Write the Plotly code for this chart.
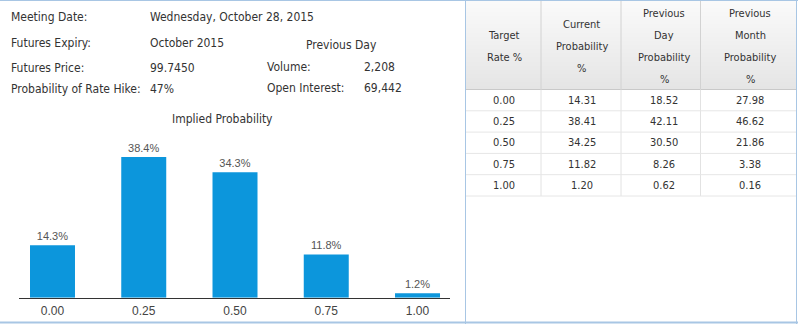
import plotly.graph_objects as go

# ---- data -------------------------------------------------------------
target_rates = ["0.00", "0.25", "0.50", "0.75", "1.00"]
current_prob = [14.31, 38.41, 34.25, 11.82, 1.20]
prev_day_prob = [18.52, 42.11, 30.50, 8.26, 0.62]
prev_month_prob = [27.98, 46.62, 21.86, 3.38, 0.16]

table_headers = [
    ["Target", "Rate %"],
    ["Current", "Probability", "%"],
    ["Previous", "Day", "Probability", "%"],
    ["Previous", "Month", "Probability", "%"],
]

info_left = [
    ("Meeting Date:", "Wednesday, October 28, 2015"),
    ("Futures Expiry:", "October 2015"),
    ("Futures Price:", "99.7450"),
    ("Probability of Rate Hike:", "47%"),
]
info_right_title = "Previous Day"
info_right = [("Volume:", "2,208"), ("Open Interest:", "69,442")]
chart_title = "Implied Probability"

# ---- page geometry helpers (pixels -> paper fractions) ------------------
W, H = 798, 324


def px(x):
    return x / W


def py(y):
    return 1 - y / H


UI_FONT = "Tahoma, 'DejaVu Sans Condensed', 'DejaVu Sans', sans-serif"
CHART_FONT = "Arial, 'Liberation Sans', sans-serif"
TEXT = "#333333"
BORDER = "#a8c6e4"

fig = go.Figure()

# ---- bar chart ------------------------------------------------------------
fig.add_trace(go.Bar(
    x=target_rates,
    y=current_prob,
    width=0.493,
    marker=dict(color="#0c96dc", line=dict(width=0)),
    texttemplate="%{y:.1f}%",
    textposition="outside",
    textfont=dict(family=CHART_FONT, size=11, color="#555555"),
    cliponaxis=False,
    hoverinfo="skip",
))

shapes = []
annotations = []

# ---- probability table geometry --------------------------------------------
tbl_left, tbl_right = 466, 796
hdr_top, hdr_bot = 1, 89
col_edges = [tbl_left, 541, 621, 700.5, tbl_right]
col_centers = [504, 581.5, 664, 750]
row_h = 21.3

# header gradient, drawn as 1px bands on whole pixel rows
c_top, c_bot = (250, 250, 250), (229, 229, 229)
n_bands = hdr_bot - hdr_top
for i in range(n_bands):
    t = i / (n_bands - 1)
    col = tuple(round(a + (b - a) * t) for a, b in zip(c_top, c_bot))
    y0 = hdr_top + i
    shapes.append(dict(type="rect", xref="paper", yref="paper", layer="below",
                       x0=px(tbl_left), x1=px(tbl_right), y0=py(y0 + 1), y1=py(y0),
                       fillcolor="rgb(%d,%d,%d)" % col, line=dict(width=0)))

shapes.append(dict(type="line", xref="paper", yref="paper", x0=px(tbl_left), x1=px(tbl_right),
                   y0=py(hdr_bot + 0.5), y1=py(hdr_bot + 0.5), line=dict(color="#c9c9c9", width=1)))

rows = list(zip(target_rates, current_prob, prev_day_prob, prev_month_prob))
body_top = hdr_bot + 0.5
body_bottom = body_top + row_h * len(rows)

for xe in col_edges[1:-1]:
    shapes.append(dict(type="line", xref="paper", yref="paper", x0=px(xe), x1=px(xe),
                       y0=py(hdr_top), y1=py(hdr_bot), line=dict(color="#d2d2d2", width=1)))
    shapes.append(dict(type="line", xref="paper", yref="paper", x0=px(xe), x1=px(xe),
                       y0=py(body_top), y1=py(body_bottom), line=dict(color="#e2e2e2", width=1)))

hdr_mid = (hdr_top + hdr_bot) / 2 + 1.5
line_gap = 21.7
for lines, cx in zip(table_headers, col_centers):
    n = len(lines)
    for k, txt in enumerate(lines):
        yy = hdr_mid + (k - (n - 1) / 2) * line_gap
        annotations.append(dict(text=txt, x=px(cx), y=py(yy), xanchor="center",
                                yanchor="middle", font=dict(size=11, color=TEXT, family=UI_FONT)))

for r, row in enumerate(rows):
    yc = body_top + row_h * (r + 0.5)
    cells = [row[0]] + ["%.2f" % v for v in row[1:]]
    for txt, cx in zip(cells, col_centers):
        annotations.append(dict(text=txt, x=px(cx), y=py(yc), xanchor="center",
                                yanchor="middle", font=dict(size=11, color=TEXT, family=UI_FONT)))
    yl = body_top + row_h * (r + 1)
    shapes.append(dict(type="line", xref="paper", yref="paper", x0=px(tbl_left), x1=px(tbl_right),
                       y0=py(yl), y1=py(yl), line=dict(color="#e6e6e6", width=1)))

# panel borders
shapes.append(dict(type="line", xref="paper", yref="paper", x0=0, x1=1,
                   y0=py(0.5), y1=py(0.5), line=dict(color=BORDER, width=1)))
shapes.append(dict(type="line", xref="paper", yref="paper", x0=0, x1=1,
                   y0=py(322.5), y1=py(322.5), line=dict(color=BORDER, width=2)))
shapes.append(dict(type="line", xref="paper", yref="paper", x0=px(465.5), x1=px(465.5),
                   y0=py(0), y1=py(324), line=dict(color=BORDER, width=1)))
shapes.append(dict(type="line", xref="paper", yref="paper", x0=px(796.5), x1=px(796.5),
                   y0=py(0), y1=py(324), line=dict(color=BORDER, width=1)))

# ---- info block -------------------------------------------------------------
left_rows_y = [16.7, 43.3, 67.7, 89.3]
for (label, value), yy in zip(info_left, left_rows_y):
    annotations.append(dict(text=label, x=px(9), y=py(yy), xanchor="left", yanchor="middle"))
    annotations.append(dict(text=value, x=px(148), y=py(yy), xanchor="left", yanchor="middle"))

annotations.append(dict(text=info_right_title, x=px(341), y=py(45), xanchor="center", yanchor="middle"))
for (label, value), yy in zip(info_right, [66.5, 88]):
    annotations.append(dict(text=label, x=px(265), y=py(yy), xanchor="left", yanchor="middle"))
    annotations.append(dict(text=value, x=px(362), y=py(yy), xanchor="left", yanchor="middle"))

annotations.append(dict(text=chart_title, x=px(222), y=py(119), xanchor="center", yanchor="middle"))

for a in annotations:
    a.setdefault("xref", "paper")
    a.setdefault("yref", "paper")
    a.setdefault("showarrow", False)
    a.setdefault("font", dict(size=12, color=TEXT, family=UI_FONT))

# ---- layout -----------------------------------------------------------------
baseline_y, y_top_px = 297.7, 143.9
fig.update_layout(
    width=W, height=H,
    margin=dict(l=0, r=0, t=0, b=0),
    paper_bgcolor="white",
    plot_bgcolor="white",
    showlegend=False,
    shapes=shapes,
    annotations=annotations,
    xaxis=dict(
        domain=[px(19), px(450)],
        range=[-0.367, 4.356],
        showline=True, linecolor="#333333", linewidth=1,
        showgrid=False, zeroline=False, ticks="",
        ticklabelstandoff=2,
        tickfont=dict(family=CHART_FONT, size=12, color="#444444"),
        fixedrange=True,
    ),
    yaxis=dict(
        domain=[py(baseline_y), py(y_top_px)],
        range=[0, 42],
        visible=False, showgrid=False, zeroline=False,
        fixedrange=True,
    ),
)

fig.write_html("out.html", config={"displayModeBar": False})
